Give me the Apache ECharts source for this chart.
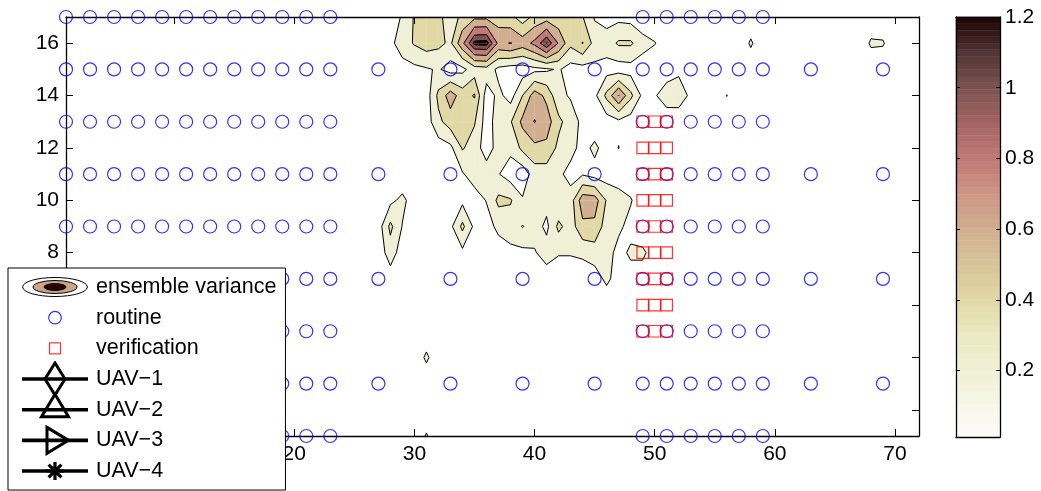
<!DOCTYPE html>
<html><head><meta charset="utf-8">
<script src="https://cdn.jsdelivr.net/npm/echarts@6/dist/echarts.min.js"></script>
<style>html,body{margin:0;padding:0;background:#fff}#c{width:1041px;height:491px}</style>
</head><body><div id="c"></div>
<script>
// ---------------- data ----------------
const xTicks = [10, 20, 30, 40, 50, 60, 70];
const yTicks = [2, 4, 6, 8, 10, 12, 14, 16];
const cbTicks = [0.2, 0.4, 0.6, 0.8, 1, 1.2];
const cbMin = 0.012, cbMax = 1.2;
const contourLevels = [0.2, 0.4, 0.6, 0.8, 1.0, 1.15];

// routine observation sites
const routineDenseX = [1,3,5,7,9,11,13,15,17,19,21,23,49,51,53,55,57,59];
const routineExtraX = [27,33,39,45,63,69];
const routineRowsY = [17,15,13,11,9,7,5,3,1];
const routineExtraRowsY = [15,11,7,3];
// verification sites
const verifX = [49,50,51];
const verifY = [13,12,11,10,9,8,7,6,5];

// ensemble variance on the model grid, x = 26..60, rows y = 17..7
const varX0 = 26;
const varBackground = 0.05;
const var17 = [.05,.05,.10,.22,.42,.50,.45,.30,.45,.55,.55,.50,.45,.30,.45,.50,.45,.45,.41,.18,.12,.14,.12,.05,.05,.05,.05,.05,.05,.05,.05,.05,.05,.05,.05];
const var16 = [.05,.08,.15,.30,.42,.50,.45,.36,.75,1.20,1.22,.75,.81,.70,.85,1.16,.78,.45,.61,.32,.30,.43,.43,.28,.21,.10,.05,.05,.05,.05,.05,.05,.23,.05,.05];
const var15 = [.05,.05,.08,.12,.15,.18,.22,.12,.15,.30,.32,.15,.10,.10,.15,.17,.22,.12,.12,.15,.12,.10,.12,.08,.05,.10,.15,.05,.05,.05,.05,.05,.05,.05,.05];
const var14 = [.05,.05,.05,.05,.05,.10,.45,.70,.50,.62,.10,.25,.12,.40,.70,.55,.25,.18,.12,.15,.45,.81,.45,.15,.18,.30,.33,.15,.05,.05,.205,.05,.05,.05,.05];
const var13 = [.05,.05,.05,.05,.05,.10,.35,.50,.50,.42,.10,.30,.38,.65,.81,.70,.45,.30,.15,.05,.10,.15,.10,.05,.05,.08,.05,.05,.05,.05,.05,.05,.05,.05,.05];
const var12 = [.05,.05,.05,.05,.05,.05,.10,.15,.42,.30,.10,.28,.25,.45,.55,.55,.35,.28,.12,.25,.10,.205,.05,.05,.05,.05,.05,.05,.05,.05,.05,.05,.05,.05,.05];
const var11 = [.05,.05,.05,.05,.05,.05,.05,.10,.18,.30,.30,.21,.10,.08,.30,.30,.25,.12,.18,.12,.10,.05,.05,.05,.05,.05,.05,.05,.05,.05,.05,.05,.05,.05,.05];
const var10 = [.05,.05,.15,.25,.10,.05,.05,.05,.15,.10,.21,.45,.42,.22,.30,.28,.22,.30,.72,.70,.38,.32,.22,.05,.05,.05,.05,.05,.05,.05,.05,.05,.05,.05,.05];
const var9  = [.05,.10,.45,.19,.05,.05,.05,.15,.45,.15,.12,.25,.30,.41,.30,.15,.45,.30,.55,.55,.30,.25,.12,.05,.05,.05,.05,.05,.05,.05,.05,.05,.05,.05,.05];
const var8  = [.05,.08,.30,.10,.05,.05,.05,.05,.15,.05,.05,.10,.15,.15,.18,.30,.22,.22,.25,.30,.30,.12,.24,.24,.10,.05,.05,.05,.05,.05,.05,.05,.05,.05,.05];
const var7  = [.05,.05,.10,.05,.05,.05,.05,.05,.05,.05,.05,.05,.05,.05,.05,.08,.05,.05,.05,.10,.25,.10,.10,.10,.05,.05,.05,.05,.05,.05,.05,.05,.05,.05,.05];
const varRows = [var17,var16,var15,var14,var13,var12,var11,var10,var9,var8,var7];
const varRowsY = [17,16,15,14,13,12,11,10,9,8,7];
// isolated small maxima outside the block above: [x, y, variance]
const varSpots = [[68,16,0.23],[69,16,0.22],[31,4,0.24],[31,1,0.22]];

// ---------------- helpers ----------------
const field = {};
varRows.forEach((row, r) => row.forEach((v, c) => { field[(varX0 + c) + ',' + varRowsY[r]] = v; }));
varSpots.forEach(s => { field[s[0] + ',' + s[1]] = s[2]; });
function V(x, y) { const v = field[x + ',' + y]; return v === undefined ? varBackground : v; }

const cmapStops = [
  [0.0,[252,252,248]],[0.1,[247,247,234]],[0.2,[240,240,214]],[0.3,[235,234,194]],
  [0.4,[225,216,166]],[0.5,[216,196,152]],[0.6,[210,174,144]],[0.7,[204,150,132]],
  [0.8,[192,121,118]],[0.9,[164,100,100]],[1.0,[124,82,82]],[1.1,[82,52,52]],[1.2,[28,2,2]]
];
function cmap(v) {
  if (v <= cmapStops[0][0]) return 'rgb(' + cmapStops[0][1].join(',') + ')';
  for (let i = 1; i < cmapStops.length; i++) {
    if (v <= cmapStops[i][0]) {
      const a = cmapStops[i-1], b = cmapStops[i], f = (v - a[0]) / (b[0] - a[0]);
      return 'rgb(' + a[1].map((c, k) => Math.round(c + (b[1][k] - c) * f)).join(',') + ')';
    }
  }
  return 'rgb(' + cmapStops[cmapStops.length-1][1].join(',') + ')';
}
const levelColors = [cmap(0.2), cmap(0.4), cmap(0.6), cmap(0.8), cmap(1.0), cmap(1.2)];

const CORN = [[0,0],[1,0],[1,1],[0,1]];
function crossPt(vals, t, i) {
  const j = (i + 1) % 4, f = (t - vals[i]) / (vals[j] - vals[i]);
  return [CORN[i][0] + (CORN[j][0] - CORN[i][0]) * f, CORN[i][1] + (CORN[j][1] - CORN[i][1]) * f];
}
function cellPolys(vals, t) {
  const ab = vals.map(v => v >= t), n = ab.filter(Boolean).length;
  if (n === 0) return [];
  if (n === 4) return [CORN.slice()];
  const center = (vals[0] + vals[1] + vals[2] + vals[3]) / 4;
  if (n === 2 && ab[0] === ab[2] && center < t) {
    const ps = [];
    for (let i = 0; i < 4; i++) if (ab[i]) ps.push([CORN[i], crossPt(vals, t, i), crossPt(vals, t, (i + 3) % 4)]);
    return ps;
  }
  const pts = [];
  for (let i = 0; i < 4; i++) { const j = (i + 1) % 4; if (ab[i]) pts.push(CORN[i]); if (ab[i] !== ab[j]) pts.push(crossPt(vals, t, i)); }
  return [pts];
}
function cellSegs(vals, t) {
  const ab = vals.map(v => v >= t), e = [];
  for (let i = 0; i < 4; i++) if (ab[i] !== ab[(i + 1) % 4]) e.push(i);
  if (e.length === 2) return [[crossPt(vals, t, e[0]), crossPt(vals, t, e[1])]];
  if (e.length === 4) {
    const center = (vals[0] + vals[1] + vals[2] + vals[3]) / 4, want = !(center >= t), segs = [];
    for (let i = 0; i < 4; i++) if (ab[i] === want) segs.push([crossPt(vals, t, (i + 3) % 4), crossPt(vals, t, i)]);
    return segs;
  }
  return [];
}
const cells = [];
for (let x = 1; x < 72; x++) for (let y = 1; y < 17; y++) {
  const m = Math.max(V(x,y), V(x+1,y), V(x+1,y+1), V(x,y+1));
  if (m >= contourLevels[0]) cells.push([x, y]);
}
function cellVals(x, y) { return [V(x,y), V(x+1,y), V(x+1,y+1), V(x,y+1)]; }

const routinePts = [];
routineRowsY.forEach(y => routineDenseX.forEach(x => routinePts.push([x, y])));
routineExtraRowsY.forEach(y => routineExtraX.forEach(x => routinePts.push([x, y])));
const verifPts = [];
verifY.forEach(y => verifX.forEach(x => verifPts.push([x, y])));

const cbSteps = 64, cbData = [];
for (let i = 0; i < cbSteps; i++) {
  const lo = cbMin + (cbMax - cbMin) * i / cbSteps, hi = cbMin + (cbMax - cbMin) * (i + 1) / cbSteps;
  cbData.push([lo, hi]);
}

function svgIcon(body) {
  return 'image://data:image/svg+xml;charset=utf-8,' + encodeURIComponent(
    '<svg xmlns="http://www.w3.org/2000/svg" width="66" height="36" viewBox="0 0 66 36">' + body + '</svg>');
}
const LINE = '<line x1="0" y1="18" x2="66" y2="18" stroke="#000" stroke-width="3.6"/>';
const icons = {
  ens: svgIcon('<ellipse cx="33" cy="18" rx="32.4" ry="9.5" fill="#fff" stroke="#000" stroke-width="1"/><ellipse cx="33" cy="18" rx="22" ry="6.5" fill="#cba48a" stroke="#000" stroke-width="1"/><ellipse cx="33" cy="18" rx="11" ry="3.4" fill="#2a0303" stroke="#000" stroke-width="1"/>'),
  routine: svgIcon('<circle cx="33" cy="18" r="6.3" fill="none" stroke="#0000ff" stroke-width="1.2"/>'),
  verif: svgIcon('<rect x="27.5" y="12.5" width="11" height="11" fill="none" stroke="#ff0000" stroke-width="1.2"/>'),
  u1: svgIcon(LINE + '<polygon points="33,2 43,18 33,34 23,18" fill="none" stroke="#000" stroke-width="3"/>'),
  u2: svgIcon(LINE + '<polygon points="33,2.5 46.5,25 19.5,25" fill="none" stroke="#000" stroke-width="3"/>'),
  u3: svgIcon(LINE + '<polygon points="25,5 46.5,18 25,31" fill="none" stroke="#000" stroke-width="3"/>'),
  u4: svgIcon(LINE + '<path d="M24 18H42M33 9V27M26.6 11.6L39.4 24.4M39.4 11.6L26.6 24.4" stroke="#000" stroke-width="3.2" fill="none"/>')
};

const FONT = 'Liberation Sans, Arial, Helvetica, sans-serif';
const axisLineStyle = { color: '#000', width: 1.3 };
function mainX(pos, labels) {
  return { gridIndex: 0, type: 'value', min: 1, max: 72, position: pos, z: 5,
    axisLine: { show: true, onZero: false, lineStyle: axisLineStyle },
    axisTick: { show: true, inside: true, length: 7, customValues: xTicks, lineStyle: { color: '#000', width: 1 } },
    axisLabel: { show: labels, customValues: xTicks, fontSize: 21, color: '#000', fontFamily: FONT, margin: 8 },
    splitLine: { show: false } };
}
function mainY(pos, labels) {
  return { gridIndex: 0, type: 'value', min: 1, max: 17, position: pos, z: 5,
    axisLine: { show: true, onZero: false, lineStyle: axisLineStyle },
    axisTick: { show: true, inside: true, length: 7, customValues: yTicks, lineStyle: { color: '#000', width: 1 } },
    axisLabel: { show: labels, customValues: yTicks, fontSize: 21, color: '#000', fontFamily: FONT, margin: 7 },
    splitLine: { show: false } };
}
function cbX(pos) {
  return { gridIndex: 1, type: 'value', min: 0, max: 1, position: pos, z: 5,
    axisLine: { show: true, onZero: false, lineStyle: axisLineStyle },
    axisTick: { show: false }, axisLabel: { show: false }, splitLine: { show: false } };
}
function cbY(pos, labels) {
  return { gridIndex: 1, type: 'value', min: cbMin, max: cbMax, position: pos, z: 5,
    axisLine: { show: true, onZero: false, lineStyle: axisLineStyle },
    axisTick: { show: true, inside: true, length: 4, customValues: cbTicks, lineStyle: { color: '#000', width: 1 } },
    axisLabel: { show: labels, customValues: cbTicks, fontSize: 21, color: '#000', fontFamily: FONT, margin: 5 },
    splitLine: { show: false } };
}

const chart = echarts.init(document.getElementById('c'), null, { renderer: 'canvas' });
chart.setOption({
  animation: false,
  backgroundColor: '#fff',
  grid: [
    { left: 66, right: 122, top: 17, bottom: 55 },
    { left: 956, right: 41, top: 17, bottom: 54 }
  ],
  xAxis: [mainX('bottom', true), mainX('top', false), cbX('bottom'), cbX('top')],
  yAxis: [mainY('left', true), mainY('right', false), cbY('right', true), cbY('left', false)],
  legend: {
    orient: 'vertical', left: 8, top: 268, padding: [1, 9, 1, 14],
    itemWidth: 66, itemHeight: 36, itemGap: -5.33,
    backgroundColor: '#fff', borderColor: '#000', borderWidth: 1, borderRadius: 0,
    selectedMode: false, z: 20,
    textStyle: { fontSize: 21.5, color: '#000', fontFamily: FONT, padding: [0, 0, 0, 3] },
    data: [
      { name: 'ensemble variance', icon: icons.ens },
      { name: 'routine', icon: icons.routine },
      { name: 'verification', icon: icons.verif },
      { name: 'UAV\u22121', icon: icons.u1 },
      { name: 'UAV\u22122', icon: icons.u2 },
      { name: 'UAV\u22123', icon: icons.u3 },
      { name: 'UAV\u22124', icon: icons.u4 }
    ]
  },
  series: [
    { name: 'ensemble variance', type: 'custom', xAxisIndex: 0, yAxisIndex: 0, silent: true, z: 2,
      data: cells, encode: { x: 0, y: 1 },
      renderItem: function (params, api) {
        const x = api.value(0), y = api.value(1), vals = cellVals(x, y), children = [];
        contourLevels.forEach((t, k) => {
          cellPolys(vals, t).forEach(poly => children.push({ type: 'polygon',
            shape: { points: poly.map(p => api.coord([x + p[0], y + p[1]])) },
            style: { fill: levelColors[k], stroke: levelColors[k], lineWidth: 0.6 } }));
        });
        return { type: 'group', children: children };
      } },
    { name: 'contour lines', type: 'custom', xAxisIndex: 0, yAxisIndex: 0, silent: true, z: 3,
      data: cells, encode: { x: 0, y: 1 },
      renderItem: function (params, api) {
        const x = api.value(0), y = api.value(1), vals = cellVals(x, y), children = [];
        contourLevels.forEach(t => {
          cellSegs(vals, t).forEach(s => children.push({ type: 'polyline',
            shape: { points: s.map(p => api.coord([x + p[0], y + p[1]])) },
            style: { stroke: '#000', lineWidth: 1, fill: null } }));
        });
        return { type: 'group', children: children };
      } },
    { name: 'routine', type: 'scatter', xAxisIndex: 0, yAxisIndex: 0, data: routinePts, silent: true, clip: false, z: 6,
      symbol: 'circle', symbolSize: 13,
      itemStyle: { color: 'rgba(0,0,0,0)', borderColor: '#0000ff', borderWidth: 1.2 } },
    { name: 'verification', type: 'scatter', xAxisIndex: 0, yAxisIndex: 0, data: verifPts, silent: true, clip: false, z: 7,
      symbol: 'rect', symbolSize: 11.5,
      itemStyle: { color: 'rgba(0,0,0,0)', borderColor: '#ff0000', borderWidth: 1.2 } },
    { name: 'UAV\u22121', type: 'line', xAxisIndex: 0, yAxisIndex: 0, data: [] },
    { name: 'UAV\u22122', type: 'line', xAxisIndex: 0, yAxisIndex: 0, data: [] },
    { name: 'UAV\u22123', type: 'line', xAxisIndex: 0, yAxisIndex: 0, data: [] },
    { name: 'UAV\u22124', type: 'line', xAxisIndex: 0, yAxisIndex: 0, data: [] },
    { name: 'colorbar', type: 'custom', xAxisIndex: 2, yAxisIndex: 2, silent: true, z: 2,
      data: cbData, encode: { y: [0, 1] },
      renderItem: function (params, api) {
        const lo = api.value(0), hi = api.value(1);
        const p1 = api.coord([0, hi]), p2 = api.coord([1, lo]);
        const c = cmap((lo + hi) / 2);
        return { type: 'rect', shape: { x: p1[0], y: p1[1], width: p2[0] - p1[0], height: p2[1] - p1[1] },
          style: { fill: c, stroke: c, lineWidth: 0.5 } };
      } }
  ]
});
</script>
</body></html>
